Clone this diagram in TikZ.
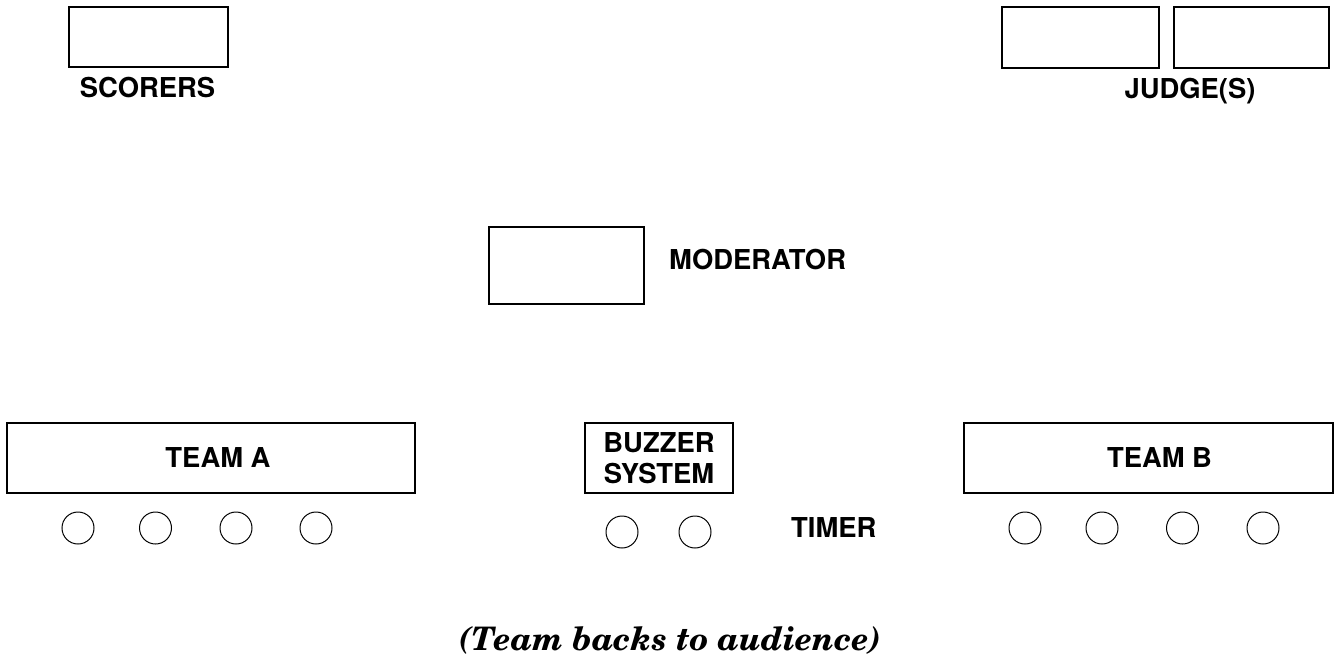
\documentclass[tikz,border=0pt]{standalone}
\usepackage[T1,TU]{fontenc}
\usepackage{fontspec}
\setsansfont{TeX Gyre Heros}
\begin{document}
\begin{tikzpicture}[x=1bp,y=-1bp,
  seat/.style={draw, line width=1.3bp, rectangle, inner sep=0pt, outer sep=0pt},
  chair/.style={draw, line width=1bp, circle, minimum size=32bp, inner sep=0pt},
  lbl/.style={font=\sffamily\bfseries\fontsize{27.5}{31}\selectfont, inner sep=0pt},
  note/.style={font=\fontencoding{T1}\fontfamily{pnc}\fontseries{b}\fontshape{it}\fontsize{32.5}{36}\selectfont, inner sep=0pt}]
\useasboundingbox (0,0) rectangle (1338,665);

% officials' tables
\node[seat, minimum width=159bp, minimum height=60bp] (scorers) at (148.5,37) {};
\node[lbl, anchor=base] (scorersLbl) at (147.5,98) {SCORERS};
\node[seat, minimum width=157bp, minimum height=61bp] (judgeA) at (1080.5,37.5) {};
\node[seat, minimum width=155bp, minimum height=61bp] (judgeB) at (1251.5,37.5) {};
\node[lbl, anchor=base] (judgeLbl) at (1190,99) {JUDGE(S)};

% moderator
\node[seat, minimum width=155bp, minimum height=77bp] (moderator) at (566.5,265.5) {};
\node[lbl, anchor=base west] (moderatorLbl) at (669,269) {MODERATOR};

% team tables and buzzer system
\node[seat, minimum width=408bp, minimum height=70bp] (teamA) at (211,458) {};
\node[lbl, anchor=base] (teamALbl) at (218,467) {TEAM A};
\node[seat, lbl, draw, line width=1.3bp, minimum width=148bp, minimum height=70bp, align=center] (buzzer) at (659,458) {BUZZER\\SYSTEM};
\node[seat, minimum width=369bp, minimum height=70bp] (teamB) at (1148.5,458) {};
\node[lbl, anchor=base] (teamBLbl) at (1159.5,467) {TEAM B};

% player chairs
\foreach \i/\x in {1/78,2/155.5,3/236,4/316}
  \node[chair] (a\i) at (\x,528) {};
\foreach \i/\x in {1/1025,2/1102,3/1182.5,4/1263}
  \node[chair] (b\i) at (\x,528) {};

% buzzer operator and timer chairs
\node[chair] (op1) at (622,532) {};
\node[chair] (op2) at (695,532) {};
\node[lbl, anchor=base west] (timerLbl) at (791,537) {TIMER};

% seating note
\node[note, anchor=base] (noteLbl) at (670,650) {(Team backs to audience)};
\end{tikzpicture}
\end{document}
